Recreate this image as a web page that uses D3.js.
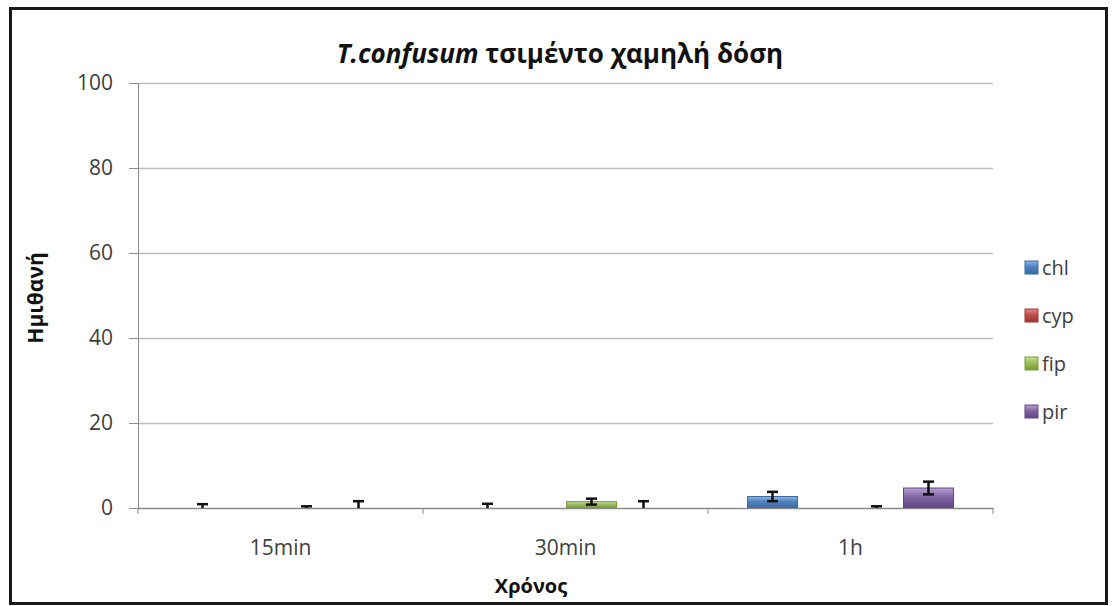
<!DOCTYPE html>
<html><head><meta charset="utf-8">
<script src="https://cdn.jsdelivr.net/npm/d3@7"></script>
<style>body{margin:0;background:#fff;} text{font-family:"Open Sans",sans-serif;}</style>
</head><body><svg id="c" width="1114" height="606"></svg>
<script>
const categories = ["15min", "30min", "1h"];
const seriesNames = ["chl", "cyp", "fip", "pir"];
const chlValues = [0, 0, 2.7];
const chlErrors = [0.9, 1.0, 1.1];
const cypValues = [0, 0, 0];
const cypErrors = [0, 0, 0];
const fipValues = [0, 1.5, 0];
const fipErrors = [0.4, 0.7, 0.4];
const pirValues = [0, 0, 4.7];
const pirErrors = [1.6, 1.6, 1.5];
const yTicks = [0, 20, 40, 60, 80, 100];
const colors = {chl:["#8fb4e3","#4f81bd","#3a6aa3"], cyp:["#e08a88","#c0504d","#9c3633"], fip:["#c9dd9c","#9bbb59","#7a9a3c"], pir:["#b7a3d1","#8064a2","#5f4883"]};

const values = {chl: chlValues, cyp: cypValues, fip: fipValues, pir: pirValues};
const errors = {chl: chlErrors, cyp: cypErrors, fip: fipErrors, pir: pirErrors};

const svg = d3.select("#c");
const pLeft = 138, pRight = 993, pTop = 83, pBottom = 508;

const defs = svg.append("defs");
seriesNames.forEach(s => {
  const g = defs.append("linearGradient").attr("id","g_"+s).attr("x1",0).attr("y1",0).attr("x2",0).attr("y2",1);
  g.append("stop").attr("offset","0%").attr("stop-color",colors[s][0]);
  g.append("stop").attr("offset","45%").attr("stop-color",colors[s][1]);
  g.append("stop").attr("offset","100%").attr("stop-color",colors[s][2]);
});
defs.append("clipPath").attr("id","clip").append("rect").attr("x",pLeft).attr("y",pTop-20).attr("width",pRight-pLeft).attr("height",pBottom-pTop+20);

// frame
svg.append("rect").attr("x",10.5).attr("y",8.5).attr("width",1096).attr("height",595).attr("fill","#fff").attr("stroke","#1a1a1a").attr("stroke-width",3);

const x0 = d3.scaleBand().domain(categories).range([pLeft, pRight]).paddingInner(0).paddingOuter(0);
const x1 = d3.scaleBand().domain(seriesNames).range([0, 208]);
const groupOffset = (x0.bandwidth() - 208) / 2;
const y = d3.scaleLinear().domain([0, 100]).range([pBottom, pTop]);

// gridlines
svg.append("g").selectAll("line").data(yTicks.filter(t => t > 0)).join("line")
  .attr("x1", pLeft).attr("x2", pRight).attr("y1", d => y(d)+0.5).attr("y2", d => y(d)+0.5)
  .attr("stroke", "#bdbdbd").attr("stroke-width", 1.5);

// y axis
const yAxis = svg.append("g").attr("transform", `translate(${pLeft},0)`)
  .call(d3.axisLeft(y).tickValues(yTicks).tickSize(9).tickPadding(16));
yAxis.select(".domain").attr("stroke", "#8a8a8a");
yAxis.selectAll(".tick line").attr("stroke", "#8a8a8a");
yAxis.selectAll(".tick text").attr("font-size", 21).attr("fill", "#404040").attr("font-family", "Open Sans");

// x axis
const xAxis = svg.append("g").attr("transform", `translate(0,${pBottom})`)
  .call(d3.axisBottom(x0).tickSize(0).tickPadding(32));
xAxis.select(".domain").attr("stroke", "#8a8a8a").attr("stroke-width", 1.5);
xAxis.selectAll(".tick text").attr("font-size", 21).attr("fill", "#404040").attr("font-family", "Open Sans");
svg.append("g").selectAll("line").data(categories.concat(["end"])).join("line")
  .attr("x1", (d,i) => pLeft + i * x0.bandwidth()).attr("x2", (d,i) => pLeft + i * x0.bandwidth())
  .attr("y1", pBottom).attr("y2", pBottom + 6).attr("stroke", "#8a8a8a");

// bars
const plot = svg.append("g").attr("clip-path", "url(#clip)");
const rows = [];
categories.forEach((c, ci) => seriesNames.forEach(s => rows.push({c, ci, s, v: values[s][ci], e: errors[s][ci]})));
const bx = d => x0(d.c) + groupOffset + x1(d.s);
plot.selectAll("rect.bar").data(rows.filter(d => d.v > 0)).join("rect").attr("class","bar")
  .attr("x", d => bx(d)+1).attr("width", x1.bandwidth()-2)
  .attr("y", d => y(d.v)).attr("height", d => y(0) - y(d.v))
  .attr("fill", d => `url(#g_${d.s})`).attr("stroke", d => colors[d.s][2]).attr("stroke-width", 1);

// error bars
const eb = plot.selectAll("g.err").data(rows.filter(d => d.e > 0)).join("g").attr("class","err");
const cx = d => bx(d) + x1.bandwidth()/2;
eb.append("line").attr("x1", cx).attr("x2", cx).attr("y1", d => y(d.v + d.e)).attr("y2", d => y(d.v - d.e)).attr("stroke","#111").attr("stroke-width",2.5);
eb.append("line").attr("x1", d => cx(d)-5.5).attr("x2", d => cx(d)+5.5).attr("y1", d => y(d.v + d.e)).attr("y2", d => y(d.v + d.e)).attr("stroke","#111").attr("stroke-width",2.5);
eb.append("line").attr("x1", d => cx(d)-5.5).attr("x2", d => cx(d)+5.5).attr("y1", d => y(d.v - d.e)).attr("y2", d => y(d.v - d.e)).attr("stroke","#111").attr("stroke-width",2.5);

// title
const title = svg.append("text").attr("x", 560).attr("y", 63).attr("text-anchor","middle")
  .attr("font-size", 26).attr("font-weight","bold").attr("fill","#111");
title.append("tspan").attr("font-style","italic").text("T.confusum");
title.append("tspan").text(" τσιμέντο χαμηλή δόση");

// axis titles
svg.append("text").attr("transform","translate(43,298) rotate(-90)").attr("text-anchor","middle")
  .attr("font-size",21).attr("font-weight","bold").attr("fill","#111").text("Ημιθανή");
svg.append("text").attr("x",531).attr("y",593).attr("text-anchor","middle")
  .attr("font-size",20).attr("font-weight","bold").attr("fill","#111").text("Χρόνος");

// legend
const lg = svg.append("g").selectAll("g").data(seriesNames).join("g")
  .attr("transform", (d,i) => `translate(1025,${268 + i*48})`);
lg.append("rect").attr("x",0).attr("y",-7).attr("width",13).attr("height",13)
  .attr("fill", d => `url(#g_${d})`).attr("stroke", d => colors[d][2]);
lg.append("text").attr("x",17).attr("y",7).attr("font-size",20).attr("fill","#404040").text(d => d);
</script></body></html>
